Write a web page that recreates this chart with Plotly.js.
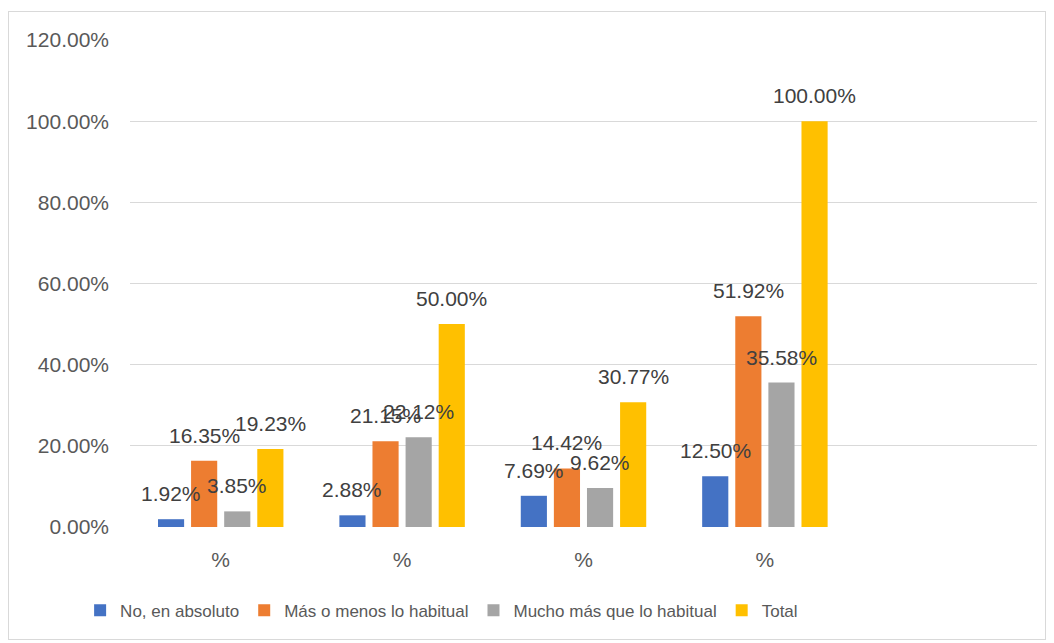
<!DOCTYPE html>
<html>
<head>
<meta charset="utf-8">
<script src="https://cdn.plot.ly/plotly-3.0.1.min.js"></script>
<style>
  html, body { margin: 0; padding: 0; background: #ffffff; }
  #frame { position: absolute; left: 8px; top: 11px; width: 1038px; height: 629px;
           border: 1px solid #d9d9d9; box-sizing: border-box; }
  #chart { width: 1036px; height: 627px; }
</style>
</head>
<body>
<div id="frame"><div id="chart"></div></div>
<script>
// ---- data ----
const categories = ["%", "%", "%", "%", ""];
const seriesNames = ["No, en absoluto", "Más o menos lo habitual", "Mucho más que lo habitual", "Total"];
const noEnAbsoluto = [1.92, 2.88, 7.69, 12.50];
const masOMenos = [16.35, 21.15, 14.42, 51.92];
const muchoMas = [3.85, 22.12, 9.62, 35.58];
const total = [19.23, 50.00, 30.77, 100.00];
const yTicks = [0, 20, 40, 60, 80, 100, 120];

// ---- style ----
const colors = ["#4472C4", "#ED7D31", "#A5A5A5", "#FFC000"];
const FONT = "'Liberation Sans', Arial, sans-serif";
const BARGAP = 0.27, GROUPGAP = 0.21;

const seriesValues = [noEnAbsoluto, masOMenos, muchoMas, total];
const xIdx = categories.map((c, i) => i);

const traces = seriesValues.map((vals, k) => ({
  type: "bar",
  name: seriesNames[k],
  x: vals.map((v, i) => i),
  y: vals,
  marker: { color: colors[k] },
  hoverinfo: "skip"
}));

// data labels above each bar (Excel "outside end" style)
const nS = seriesValues.length;
const slot = (1 - BARGAP) / nS;
const annotations = [];
seriesValues.forEach((vals, k) => {
  const off = -(1 - BARGAP) / 2 + slot * (k + 0.5);
  vals.forEach((v, i) => {
    annotations.push({
      x: i + off, y: v, xref: "x", yref: "y",
      text: v.toFixed(2) + "%",
      showarrow: false, yanchor: "bottom", xanchor: "center",
      yshift: 12,
      font: { family: FONT, size: 21, color: "#404040" }
    });
  });
});

const layout = {
  width: 1036, height: 627,
  margin: { l: 121, r: 8, t: 28, b: 112 },
  paper_bgcolor: "#ffffff", plot_bgcolor: "#ffffff",
  barmode: "group", bargap: BARGAP, bargroupgap: GROUPGAP,
  font: { family: FONT, color: "#595959" },
  showlegend: true,
  legend: {
    orientation: "h", x: -0.055, xanchor: "left", y: -0.172, yanchor: "middle",
    font: { family: FONT, size: 17, color: "#595959" },
    itemwidth: 30, traceorder: "normal"
  },
  xaxis: {
    range: [-0.5, categories.length - 0.5],
    tickmode: "array", tickvals: xIdx, ticktext: categories,
    showgrid: false, zeroline: false, showline: false, ticks: "",
    ticklabelstandoff: 18,
    tickfont: { family: FONT, size: 21, color: "#595959" },
    fixedrange: true
  },
  yaxis: {
    range: [0, 120], tickmode: "array", tickvals: yTicks,
    ticktext: yTicks.map(t => t.toFixed(2) + "%"),
    showgrid: true, gridcolor: "#d9d9d9", gridwidth: 1.3,
    zeroline: false, showline: false, ticks: "",
    ticklabelstandoff: 20,
    tickfont: { family: FONT, size: 21, color: "#595959" },
    fixedrange: true
  },
  annotations: annotations
};

Plotly.newPlot("chart", traces, layout, { displayModeBar: false, staticPlot: true });
</script>
</body>
</html>
